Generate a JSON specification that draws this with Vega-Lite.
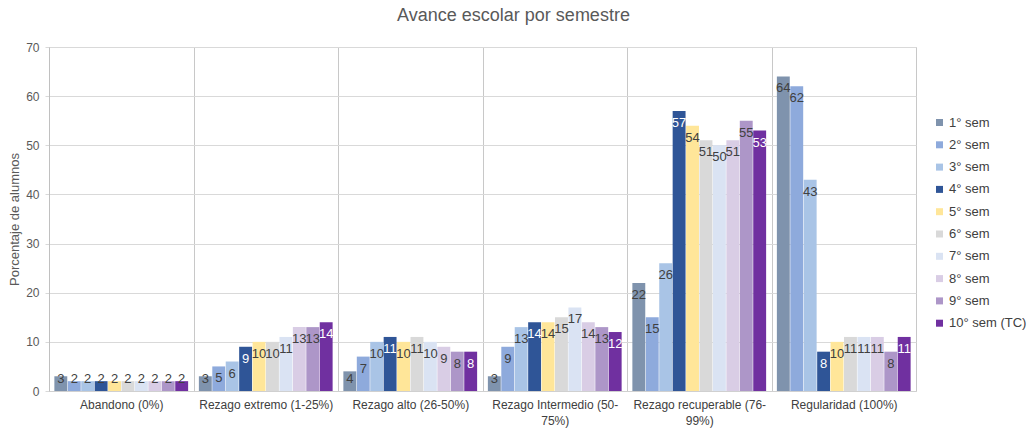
{
  "$schema": "https://vega.github.io/schema/vega-lite/v6.json",
  "width": 867,
  "height": 344,
  "autosize": "none",
  "padding": {"left": 49, "top": 47, "right": 111, "bottom": 40},
  "background": "white",
  "config": {
    "font": "Liberation Sans",
    "view": {"stroke": "#d0d0d0", "strokeWidth": 1}
  },
  "title": {
    "text": "Avance escolar por semestre",
    "fontSize": 18,
    "fontWeight": "normal",
    "color": "#595959",
    "font": "Liberation Sans",
    "anchor": "middle",
    "dx": 31,
    "offset": 16
  },
  "data": {
    "values": [
      {"cat": "Abandono (0%)", "sem": "1° sem", "value": 3},
      {"cat": "Abandono (0%)", "sem": "2° sem", "value": 2},
      {"cat": "Abandono (0%)", "sem": "3° sem", "value": 2},
      {"cat": "Abandono (0%)", "sem": "4° sem", "value": 2},
      {"cat": "Abandono (0%)", "sem": "5° sem", "value": 2},
      {"cat": "Abandono (0%)", "sem": "6° sem", "value": 2},
      {"cat": "Abandono (0%)", "sem": "7° sem", "value": 2},
      {"cat": "Abandono (0%)", "sem": "8° sem", "value": 2},
      {"cat": "Abandono (0%)", "sem": "9° sem", "value": 2},
      {"cat": "Abandono (0%)", "sem": "10° sem (TC)", "value": 2},
      {"cat": "Rezago extremo (1-25%)", "sem": "1° sem", "value": 3},
      {"cat": "Rezago extremo (1-25%)", "sem": "2° sem", "value": 5},
      {"cat": "Rezago extremo (1-25%)", "sem": "3° sem", "value": 6},
      {"cat": "Rezago extremo (1-25%)", "sem": "4° sem", "value": 9},
      {"cat": "Rezago extremo (1-25%)", "sem": "5° sem", "value": 10},
      {"cat": "Rezago extremo (1-25%)", "sem": "6° sem", "value": 10},
      {"cat": "Rezago extremo (1-25%)", "sem": "7° sem", "value": 11},
      {"cat": "Rezago extremo (1-25%)", "sem": "8° sem", "value": 13},
      {"cat": "Rezago extremo (1-25%)", "sem": "9° sem", "value": 13},
      {"cat": "Rezago extremo (1-25%)", "sem": "10° sem (TC)", "value": 14},
      {"cat": "Rezago alto (26-50%)", "sem": "1° sem", "value": 4},
      {"cat": "Rezago alto (26-50%)", "sem": "2° sem", "value": 7},
      {"cat": "Rezago alto (26-50%)", "sem": "3° sem", "value": 10},
      {"cat": "Rezago alto (26-50%)", "sem": "4° sem", "value": 11},
      {"cat": "Rezago alto (26-50%)", "sem": "5° sem", "value": 10},
      {"cat": "Rezago alto (26-50%)", "sem": "6° sem", "value": 11},
      {"cat": "Rezago alto (26-50%)", "sem": "7° sem", "value": 10},
      {"cat": "Rezago alto (26-50%)", "sem": "8° sem", "value": 9},
      {"cat": "Rezago alto (26-50%)", "sem": "9° sem", "value": 8},
      {"cat": "Rezago alto (26-50%)", "sem": "10° sem (TC)", "value": 8},
      {"cat": "Rezago Intermedio (50-75%)", "sem": "1° sem", "value": 3},
      {"cat": "Rezago Intermedio (50-75%)", "sem": "2° sem", "value": 9},
      {"cat": "Rezago Intermedio (50-75%)", "sem": "3° sem", "value": 13},
      {"cat": "Rezago Intermedio (50-75%)", "sem": "4° sem", "value": 14},
      {"cat": "Rezago Intermedio (50-75%)", "sem": "5° sem", "value": 14},
      {"cat": "Rezago Intermedio (50-75%)", "sem": "6° sem", "value": 15},
      {"cat": "Rezago Intermedio (50-75%)", "sem": "7° sem", "value": 17},
      {"cat": "Rezago Intermedio (50-75%)", "sem": "8° sem", "value": 14},
      {"cat": "Rezago Intermedio (50-75%)", "sem": "9° sem", "value": 13},
      {"cat": "Rezago Intermedio (50-75%)", "sem": "10° sem (TC)", "value": 12},
      {"cat": "Rezago recuperable (76-99%)", "sem": "1° sem", "value": 22},
      {"cat": "Rezago recuperable (76-99%)", "sem": "2° sem", "value": 15},
      {"cat": "Rezago recuperable (76-99%)", "sem": "3° sem", "value": 26},
      {"cat": "Rezago recuperable (76-99%)", "sem": "4° sem", "value": 57},
      {"cat": "Rezago recuperable (76-99%)", "sem": "5° sem", "value": 54},
      {"cat": "Rezago recuperable (76-99%)", "sem": "6° sem", "value": 51},
      {"cat": "Rezago recuperable (76-99%)", "sem": "7° sem", "value": 50},
      {"cat": "Rezago recuperable (76-99%)", "sem": "8° sem", "value": 51},
      {"cat": "Rezago recuperable (76-99%)", "sem": "9° sem", "value": 55},
      {"cat": "Rezago recuperable (76-99%)", "sem": "10° sem (TC)", "value": 53},
      {"cat": "Regularidad (100%)", "sem": "1° sem", "value": 64},
      {"cat": "Regularidad (100%)", "sem": "2° sem", "value": 62},
      {"cat": "Regularidad (100%)", "sem": "3° sem", "value": 43},
      {"cat": "Regularidad (100%)", "sem": "4° sem", "value": 8},
      {"cat": "Regularidad (100%)", "sem": "5° sem", "value": 10},
      {"cat": "Regularidad (100%)", "sem": "6° sem", "value": 11},
      {"cat": "Regularidad (100%)", "sem": "7° sem", "value": 11},
      {"cat": "Regularidad (100%)", "sem": "8° sem", "value": 11},
      {"cat": "Regularidad (100%)", "sem": "9° sem", "value": 8},
      {"cat": "Regularidad (100%)", "sem": "10° sem (TC)", "value": 11}
    ]
  },
  "encoding": {
    "x": {
      "field": "cat",
      "type": "nominal",
      "sort": null,
      "scale": {"paddingInner": 0, "paddingOuter": 0},
      "axis": {
        "title": null,
        "labelAngle": 0,
        "labelFontSize": 12,
        "labelColor": "#404040",
        "labelPadding": 8,
        "labelLineHeight": 16,
        "ticks": false,
        "domain": true,
        "domainColor": "#d0d0d0",
        "grid": true,
        "gridColor": "#c8c8c8",
        "tickBand": "extent",
        "labelExpr": "datum.label == 'Rezago Intermedio (50-75%)' ? ['Rezago Intermedio (50-', '75%)'] : datum.label == 'Rezago recuperable (76-99%)' ? ['Rezago recuperable (76-', '99%)'] : datum.label"
      }
    },
    "xOffset": {
      "field": "sem",
      "type": "nominal",
      "sort": null,
      "scale": {"paddingInner": 0.04, "paddingOuter": 0.4}
    },
    "y": {
      "field": "value",
      "type": "quantitative",
      "scale": {"domain": [0, 70]},
      "axis": {
        "title": "Porcentaje de alumnos",
        "titleFontSize": 13,
        "titleFontWeight": "normal",
        "titleColor": "#595959",
        "titlePadding": 4,
        "values": [0, 10, 20, 30, 40, 50, 60, 70],
        "labelFontSize": 12,
        "labelColor": "#595959",
        "labelPadding": 6,
        "tickSize": 4,
        "tickColor": "#d9d9d9",
        "domainColor": "#c0c0c0",
        "gridColor": "#d9d9d9"
      }
    }
  },
  "layer": [
    {
      "mark": {"type": "bar"},
      "encoding": {
        "color": {
          "field": "sem",
          "type": "nominal",
          "scale": {
            "domain": ["1° sem", "2° sem", "3° sem", "4° sem", "5° sem", "6° sem", "7° sem", "8° sem", "9° sem", "10° sem (TC)"],
            "range": ["#7f93ad", "#8eaadc", "#a9c4e6", "#2f5597", "#ffe699", "#d9d9d9", "#dae3f3", "#d9cde5", "#ad96c8", "#7030a0"]
          },
          "legend": {
            "title": null,
            "orient": "none",
            "legendX": 884,
            "legendY": 69,
            "symbolType": "square",
            "symbolSize": 49,
            "symbolStrokeWidth": 0,
            "labelFontSize": 13,
            "labelColor": "#404040",
            "labelOffset": 3,
            "rowPadding": 8.3
          }
        }
      }
    },
    {
      "mark": {
        "type": "text",
        "baseline": "middle",
        "align": "center",
        "fontSize": 13,
        "dy": {"expr": "min(12, datum.value * 4.914 - 12)"}
      },
      "encoding": {
        "text": {"field": "value", "type": "quantitative"},
        "color": {
          "condition": {
            "test": "(datum.sem == '4° sem' || datum.sem == '10° sem (TC)') && datum.value >= 5",
            "value": "white"
          },
          "value": "#404040"
        }
      }
    }
  ]
}
